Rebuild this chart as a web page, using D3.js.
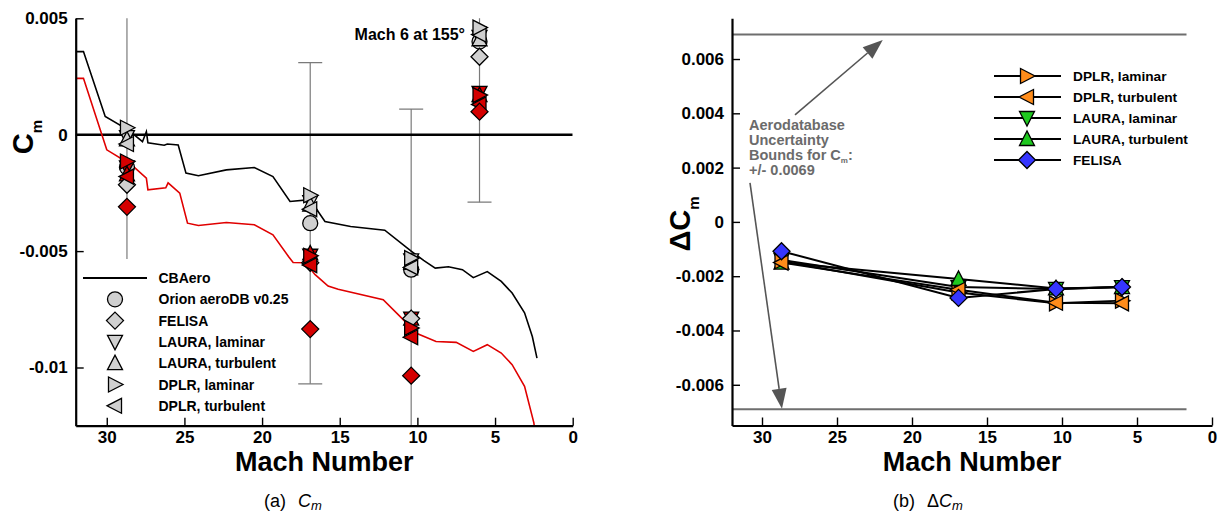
<!DOCTYPE html>
<html><head><meta charset="utf-8">
<script src="https://cdn.jsdelivr.net/npm/d3@7"></script>
<style>
body{margin:0;background:#fff;}
text{font-family:"Liberation Sans",Arial,Helvetica,sans-serif;}
</style></head><body>
<svg id="c" width="1219" height="516"></svg>
<script>
// ---------- DATA ----------
const mach = [28.7, 16.9, 10.4, 6.0];
// left panel, grey symbols (one attitude)
const orionCm     = [-0.0014, -0.0038, -0.0058, 0.0040];
const felisaCm    = [-0.00215, -0.0055, -0.0079, 0.00335];
const lauraLamCm  = [-0.0001, -0.0029, -0.0054, 0.0042];
const lauraTurbCm = [-0.0002, -0.0030, -0.0055, 0.0041];
const dplrLamCm   = [0.0003, -0.0026, -0.0053, 0.0046];
const dplrTurbCm  = [-0.0004, -0.0032, -0.0057, 0.0043];
// left panel, red symbols
const felisaRedCm    = [-0.0031, -0.00835, -0.01035, 0.00099];
const lauraLamRedCm  = [-0.0014, -0.0052, -0.0079, 0.0018];
const lauraTurbRedCm = [-0.0017, -0.0051, -0.0079, 0.0017];
const dplrLamRedCm   = [-0.00115, -0.0052, -0.0083, 0.0017];
const dplrTurbRedCm  = [-0.0018, -0.0056, -0.0087, 0.0013];
const uncertainty = 0.0069;
// CBAero curves
const cbaeroMach = [32.0,31.5,30.1,28.6,27.7,27.45,27.35,26.3,26.1,25.4,24.9,24.1,22.3,20.5,19.3,18.2,17.1,16.7,15.95,14.3,12.1,10.4,9.6,8.85,8.0,7.1,6.4,5.5,4.6,3.9,3.1,2.6,2.3];
const cbaeroCm   = [0.00357,0.00357,0.00078,0.0002,-0.0003,0.00013,-0.00035,-0.00045,-0.0004,-0.00044,-0.00165,-0.00176,-0.00151,-0.00141,-0.0018,-0.00287,-0.0028,-0.0030,-0.00373,-0.00394,-0.0041,-0.0050,-0.0054,-0.00573,-0.00567,-0.0058,-0.00614,-0.00588,-0.0063,-0.0068,-0.00765,-0.00867,-0.0096];
const cbaeroRedMach = [32.0,31.5,30.0,28.4,27.45,27.35,26.2,26.05,25.3,24.8,24.1,22.3,20.5,19.3,18.3,18.0,17.2,16.6,15.75,15.1,12.2,10.8,10.1,8.8,7.5,6.4,5.5,4.6,3.9,3.1,2.5,2.3];
const cbaeroRedCm   = [0.00242,0.00242,-0.00065,-0.0013,-0.00187,-0.00237,-0.00228,-0.00207,-0.00251,-0.0038,-0.0039,-0.00377,-0.00387,-0.0043,-0.00523,-0.00549,-0.0055,-0.0060,-0.0065,-0.00664,-0.00709,-0.00802,-0.00852,-0.00888,-0.00892,-0.00931,-0.00902,-0.00938,-0.00988,-0.01081,-0.01238,-0.0135];
// right panel, delta Cm
const dDplrLam   = [-0.00145, -0.0026, -0.0030, -0.0029];
const dDplrTurb  = [-0.0015, -0.0025, -0.00298, -0.0030];
const dLauraLam  = [-0.0014, -0.0024, -0.00247, -0.0024];
const dLauraTurb = [-0.0015, -0.0021, -0.00245, -0.0024];
const dFelisa    = [-0.00108, -0.0028, -0.00247, -0.0024];
const boundMach = [32, 1.7];
// ticks
const xMajor = [30,25,20,15,10,5,0];
const xLabels = ["30","25","20","15","10","5","0"];
const yMajorL = [-0.01,-0.005,0,0.005];
const yLabelsL = ["-0.01","-0.005","0","0.005"];
const yMajorR = [-0.006,-0.004,-0.002,0,0.002,0.004,0.006];
const yLabelsR = ["-0.006","-0.004","-0.002","0","0.002","0.004","0.006"];
const legendL = ["CBAero","Orion aeroDB v0.25","FELISA","LAURA, laminar","LAURA, turbulent","DPLR, laminar","DPLR, turbulent"];
const legendR = ["DPLR, laminar","DPLR, turbulent","LAURA, laminar","LAURA, turbulent","FELISA"];

// ---------- STYLE ----------
const GREY="#d0d0d0", RED="#d40000", ORANGE="#ff8c1a", GREEN="#1fc81f", BLUE="#3636ff";
const svg = d3.select("#c");
const SH = {
  circle:"M-7.5,0a7.5,7.5 0 1,0 15,0a7.5,7.5 0 1,0 -15,0Z",
  diamond:"M0,-8.5L8.5,0L0,8.5L-8.5,0Z",
  down:"M-7.5,-6.5L7.5,-6.5L0,8Z",
  up:"M-7.5,6.5L7.5,6.5L0,-8Z",
  right:"M-6.5,-7.5L-6.5,7.5L8,0Z",
  left:"M6.5,-7.5L6.5,7.5L-8,0Z"
};

const xL = d3.scaleLinear([32,0],[75.7,572.7]);
const yL = d3.scaleLinear([-0.0125,0.005],[425.7,18.3]);
const xR = d3.scaleLinear([32,0],[732,1212]);
const yR = d3.scaleLinear([-0.0075,0.0075],[425.5,18.3]);

function drawAxes(x, y, yMajor, yLabels, yMinor){
  const g = svg.append("g");
  const b = y.range()[0], l = x.range()[0];
  const gx = g.append("g").attr("transform",`translate(0,${b})`);
  gx.call(d3.axisBottom(x).tickValues(d3.range(32,-0.5,-1)).tickSize(-4).tickFormat("").tickSizeOuter(0));
  gx.call(d3.axisBottom(x).tickValues(xMajor).tickSize(-8).tickPadding(5).tickSizeOuter(0).tickFormat((d,i)=>xLabels[i]));
  const gy = g.append("g").attr("transform",`translate(${l},0)`);
  gy.call(d3.axisLeft(y).tickValues(yMinor).tickSize(-4).tickFormat("").tickSizeOuter(0));
  gy.call(d3.axisLeft(y).tickValues(yMajor).tickSize(-8).tickPadding(8).tickSizeOuter(0).tickFormat((d,i)=>yLabels[i]));
  g.selectAll(".domain").attr("stroke","#000").attr("stroke-width",2.2);
  g.selectAll(".tick line").attr("stroke","#000").attr("stroke-width",1.4);
  g.selectAll(".tick text").attr("font-size",17).attr("font-weight","bold").attr("fill","#000")
    .attr("font-family","'Liberation Sans',Arial,sans-serif");
  g.append("text").attr("x",(x.range()[0]+x.range()[1])/2).attr("y",471)
    .attr("text-anchor","middle").attr("font-size",27).attr("font-weight","bold").text("Mach Number");
}

// ---------- LEFT PANEL ----------
svg.append("clipPath").attr("id","clipL").append("rect")
  .attr("x",xL.range()[0]).attr("y",yL.range()[1])
  .attr("width",xL.range()[1]-xL.range()[0]).attr("height",yL.range()[0]-yL.range()[1]);
const pL = svg.append("g").attr("clip-path","url(#clipL)");

// error bars
mach.forEach((m,i)=>{
  const c = orionCm[i];
  const g = pL.append("g").attr("stroke","#7a7a7a").attr("stroke-width",1.2);
  g.append("line").attr("x1",xL(m)).attr("x2",xL(m)).attr("y1",yL(c+uncertainty)).attr("y2",yL(c-uncertainty));
  [c+uncertainty,c-uncertainty].forEach(v=>{
    g.append("line").attr("x1",xL(m)-12).attr("x2",xL(m)+12).attr("y1",yL(v)).attr("y2",yL(v));
  });
});
// zero line
pL.append("line").attr("x1",xL(32)).attr("x2",xL(0)).attr("y1",yL(0)).attr("y2",yL(0))
  .attr("stroke","#000").attr("stroke-width",2.5);
// curves
const lineL = d3.line().x(d=>xL(d[0])).y(d=>yL(d[1]));
pL.append("path").attr("d",lineL(d3.zip(cbaeroRedMach,cbaeroRedCm))).attr("fill","none").attr("stroke","#e00000").attr("stroke-width",1.6);
pL.append("path").attr("d",lineL(d3.zip(cbaeroMach,cbaeroCm))).attr("fill","none").attr("stroke","#000").attr("stroke-width",1.6);

function symbols(g, x, y, ms, vals, shape, fill){
  g.selectAll(null).data(ms.map((m,i)=>[m,vals[i]])).enter().append("path")
    .attr("d",SH[shape]).attr("transform",d=>`translate(${x(d[0])},${y(d[1])})`)
    .attr("fill",fill).attr("stroke","#000").attr("stroke-width",1.3);
}
symbols(pL,xL,yL,mach,orionCm,"circle",GREY);
symbols(pL,xL,yL,mach,lauraLamCm,"down",GREY);
symbols(pL,xL,yL,mach,lauraTurbCm,"up",GREY);
symbols(pL,xL,yL,mach,dplrTurbCm,"left",GREY);
symbols(pL,xL,yL,mach,dplrLamCm,"right",GREY);
symbols(pL,xL,yL,mach,lauraLamRedCm,"down",RED);
symbols(pL,xL,yL,mach,lauraTurbRedCm,"up",RED);
symbols(pL,xL,yL,mach,felisaCm,"diamond",GREY);
symbols(pL,xL,yL,mach,dplrTurbRedCm,"left",RED);
symbols(pL,xL,yL,mach,dplrLamRedCm,"right",RED);
symbols(pL,xL,yL,mach,felisaRedCm,"diamond",RED);

// legend (white background)
const lgL = svg.append("g");
lgL.append("rect").attr("x",80).attr("y",259).attr("width",200).attr("height",163).attr("fill","#fff");
const lShapes = [null,"circle","diamond","down","up","right","left"];
legendL.forEach((t,i)=>{
  const yy = 278 + i*21.3;
  if(i===0){
    lgL.append("line").attr("x1",83).attr("x2",147).attr("y1",yy).attr("y2",yy).attr("stroke","#000").attr("stroke-width",2);
  } else {
    lgL.append("path").attr("d",SH[lShapes[i]]).attr("transform",`translate(115,${yy})`)
      .attr("fill",GREY).attr("stroke","#000").attr("stroke-width",1.3);
  }
  lgL.append("text").attr("x",158.5).attr("y",yy).attr("dy","0.36em").attr("font-size",14).attr("font-weight","bold").text(t);
});
svg.append("text").attr("x",465).attr("y",40).attr("text-anchor","end").attr("font-size",16).attr("font-weight","bold").text("Mach 6 at 155°");

drawAxes(xL,yL,yMajorL,yLabelsL,d3.range(-12,5.5,1).map(v=>v/1000));
// y title left
const tl = svg.append("text").attr("transform","translate(33,137) rotate(-90)").attr("text-anchor","middle").attr("font-weight","bold");
tl.append("tspan").attr("font-size",29).text("C");
tl.append("tspan").attr("font-size",15).attr("dy",9).text("m");

// ---------- RIGHT PANEL ----------
const bnd = svg.append("g").attr("stroke","#6e6e6e").attr("stroke-width",2);
[uncertainty,-uncertainty].forEach(v=>{
  bnd.append("line").attr("x1",xR(boundMach[0])).attr("x2",xR(boundMach[1])).attr("y1",yR(v)).attr("y2",yR(v));
});
// annotation arrows
function arrow(m1,v1,m2,v2){
  const x1=xR(m1),y1=yR(v1),x2=xR(m2),y2=yR(v2);
  const a=Math.atan2(y2-y1,x2-x1), L=20, W=7.5;
  const bx=x2-L*Math.cos(a), by=y2-L*Math.sin(a);
  svg.append("line").attr("x1",x1).attr("y1",y1).attr("x2",bx).attr("y2",by).attr("stroke","#555").attr("stroke-width",1.6);
  const px=-Math.sin(a)*W, py=Math.cos(a)*W;
  svg.append("path").attr("d",`M${x2},${y2}L${bx+px},${by+py}L${bx-px},${by-py}Z`).attr("fill","#555");
}
arrow(27.8,0.00394,21.95,0.0067);
arrow(30.8,0.00144,28.67,-0.00688);
const ann = svg.append("g").attr("fill","#6b6b6b").attr("font-weight","bold").attr("font-size",14.5);
ann.append("text").attr("x",749).attr("y",130).text("Aerodatabase");
ann.append("text").attr("x",749).attr("y",145).text("Uncertainty");
const bt = ann.append("text").attr("x",749).attr("y",160);
bt.append("tspan").text("Bounds for C");
bt.append("tspan").attr("font-size",8).attr("dy",3).text("m");
bt.append("tspan").attr("dy",-3).text(":");
ann.append("text").attr("x",749).attr("y",175).text("+/- 0.0069");

const seriesR = [
  [dDplrLam,"right",ORANGE],[dDplrTurb,"left",ORANGE],[dLauraLam,"down",GREEN],[dLauraTurb,"up",GREEN],[dFelisa,"diamond",BLUE]
];
const drawOrder = [2,3,0,1,4];
const lineR = d3.line().x(d=>xR(d[0])).y(d=>yR(d[1]));
const pR = svg.append("g");
drawOrder.forEach(k=>{
  const [vals,sh,col] = seriesR[k];
  pR.append("path").attr("d",lineR(d3.zip(mach,vals))).attr("fill","none").attr("stroke","#000").attr("stroke-width",2);
  symbols(pR,xR,yR,mach,vals,sh,col);
});
// legend right
const lgR = svg.append("g");
legendR.forEach((t,i)=>{
  const yy = 76 + i*21;
  lgR.append("line").attr("x1",994).attr("x2",1061).attr("y1",yy).attr("y2",yy).attr("stroke","#000").attr("stroke-width",2);
  lgR.append("path").attr("d",SH[seriesR[i][1]]).attr("transform",`translate(1027,${yy})`)
    .attr("fill",seriesR[i][2]).attr("stroke","#000").attr("stroke-width",1.3);
  lgR.append("text").attr("x",1073).attr("y",yy).attr("dy","0.36em").attr("font-size",13.7).attr("font-weight","bold").text(t);
});

drawAxes(xR,yR,yMajorR,yLabelsR,d3.range(-15,15.5,1).map(v=>v/2000));
const tr = svg.append("text").attr("transform","translate(690,224) rotate(-90)").attr("text-anchor","middle").attr("font-weight","bold");
tr.append("tspan").attr("font-size",29).text("ΔC");
tr.append("tspan").attr("font-size",15).attr("dy",9).text("m");

// ---------- CAPTIONS ----------
function caption(x, lab, pre){
  const t = svg.append("text").attr("x",x).attr("y",507).attr("font-family","'Liberation Serif','Times New Roman',serif").attr("font-size",18);
  t.append("tspan").text(lab);
  if(pre) t.append("tspan").attr("dx",12).text(pre);
  t.append("tspan").attr("dx",pre?0:12).attr("font-style","italic").text("C");
  t.append("tspan").attr("font-style","italic").attr("font-size",13).attr("dy",3).text("m");
}
caption(264,"(a)","");
caption(893,"(b)","Δ");
</script>
</body></html>
